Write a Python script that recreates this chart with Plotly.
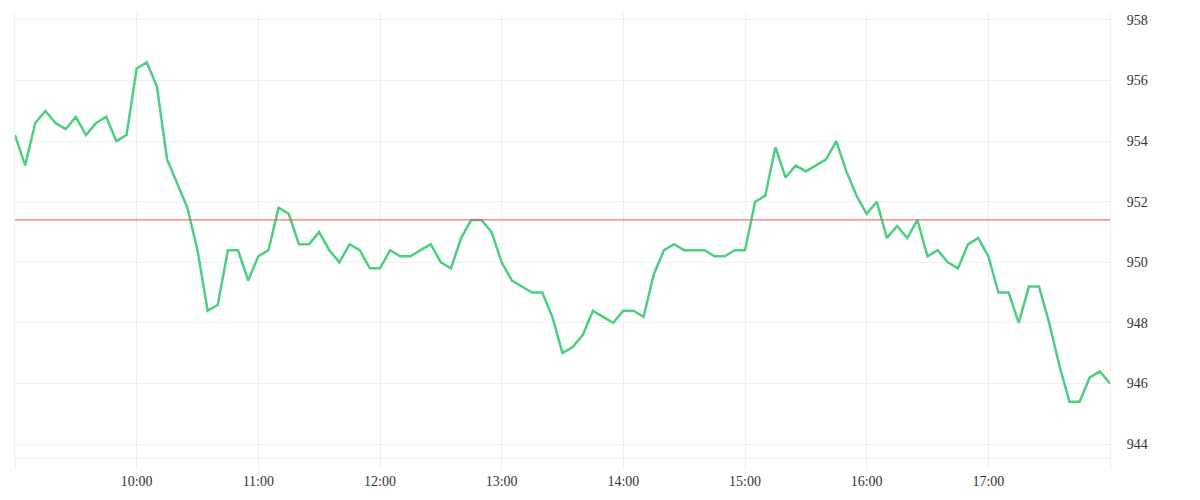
import pandas as pd
import plotly.graph_objects as go

# 5분봉 종가 (09:00 ~ 18:00)
h09 = [954.2, 953.2, 954.6, 955.0, 954.6, 954.4, 954.8, 954.2, 954.6, 954.8, 954.0, 954.2]
h10 = [956.4, 956.6, 955.8, 953.4, 952.6, 951.8, 950.4, 948.4, 948.6, 950.4, 950.4, 949.4]
h11 = [950.2, 950.4, 951.8, 951.6, 950.6, 950.6, 951.0, 950.4, 950.0, 950.6, 950.4, 949.8]
h12 = [949.8, 950.4, 950.2, 950.2, 950.4, 950.6, 950.0, 949.8, 950.8, 951.4, 951.4, 951.0]
h13 = [950.0, 949.4, 949.2, 949.0, 949.0, 948.2, 947.0, 947.2, 947.6, 948.4, 948.2, 948.0]
h14 = [948.4, 948.4, 948.2, 949.6, 950.4, 950.6, 950.4, 950.4, 950.4, 950.2, 950.2, 950.4]
h15 = [950.4, 952.0, 952.2, 953.8, 952.8, 953.2, 953.0, 953.2, 953.4, 954.0, 953.0, 952.2]
h16 = [951.6, 952.0, 950.8, 951.2, 950.8, 951.4, 950.2, 950.4, 950.0, 949.8, 950.6, 950.8]
h17 = [950.2, 949.0, 949.0, 948.0, 949.2, 949.2, 948.0, 946.6, 945.4, 945.4, 946.2, 946.4]
h18 = [946.0]

prices = h09 + h10 + h11 + h12 + h13 + h14 + h15 + h16 + h17 + h18
times = pd.date_range('2024-01-02 09:00', '2024-01-02 18:00', freq='5min')

prev_close = 951.4  # 기준선

hour_ticks = pd.date_range('2024-01-02 09:00', '2024-01-02 18:00', freq='1h')
hour_labels = ['', '10:00', '11:00', '12:00', '13:00', '14:00', '15:00', '16:00', '17:00', '']

y_ticks = [944, 946, 948, 950, 952, 954, 956, 958]

grid = '#efefef'

fig = go.Figure()
fig.add_trace(go.Scatter(x=times, y=prices, mode='lines',
                         line=dict(color='#4cd07d', width=2.5),
                         hoverinfo='x+y'))

fig.add_hline(y=prev_close, line_color='#ef5350', line_width=1)

fig.update_layout(
    width=1200, height=500,
    margin=dict(l=7, r=98, t=5, b=50),
    paper_bgcolor='white', plot_bgcolor='white',
    showlegend=False,
    font=dict(family='Liberation Serif', size=14, color='#333333'),
    xaxis=dict(range=[times[0], times[-1]],
               tickmode='array', tickvals=hour_ticks, ticktext=hour_labels,
               showgrid=True, gridcolor=grid, gridwidth=1,
               showline=True, linecolor=grid, linewidth=1,
               ticks='outside', ticklen=10, tickcolor=grid,
               zeroline=False),
    yaxis=dict(side='right', range=[943.54, 958.23],
               tickmode='array', tickvals=y_ticks,
               showgrid=True, gridcolor=grid, gridwidth=1,
               showline=True, mirror=True, linecolor=grid, linewidth=1,
               ticks='', ticklabelstandoff=13,
               zeroline=False),
)

fig.write_html("out.html")
